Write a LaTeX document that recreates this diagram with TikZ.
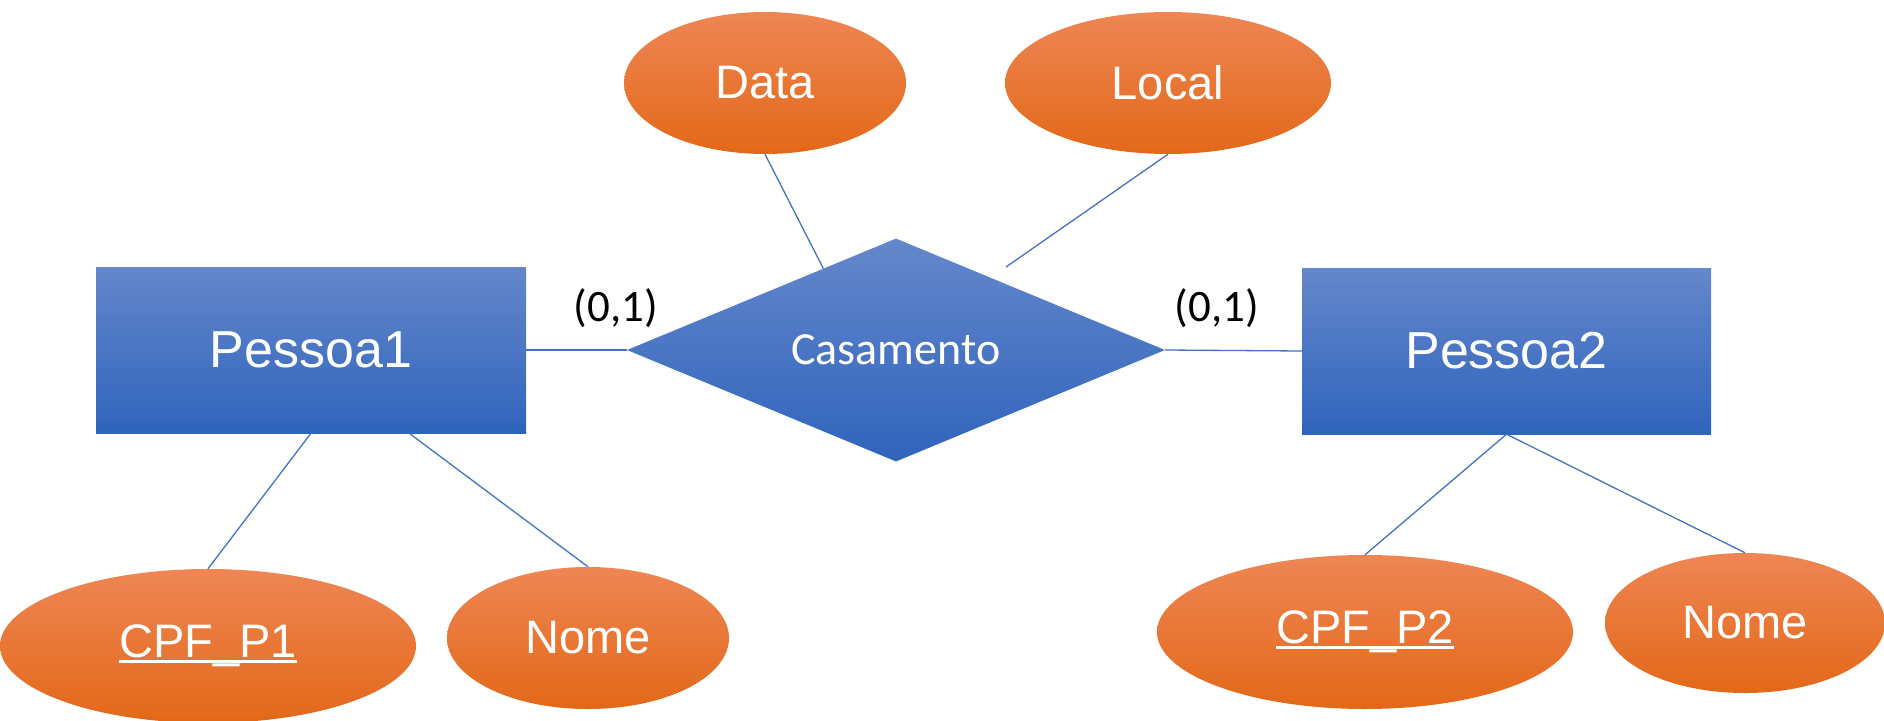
\documentclass[tikz,border=0pt]{standalone}
\usepackage{fontspec}
\setmainfont{Liberation Sans}
\newfontfamily\calfont{Carlito}
\usetikzlibrary{shapes.geometric,calc}

\definecolor{linkblue}{HTML}{4472C4}
\definecolor{entTop}{HTML}{6587CB}
\definecolor{entMid}{HTML}{4574C6}
\definecolor{entBot}{HTML}{2F64BC}
\definecolor{attTop}{HTML}{EE8654}
\definecolor{attMid}{HTML}{F47A2A}
\definecolor{attBot}{HTML}{E36818}

% key attribute: text with a solid underline
\newcommand\keyattr[1]{\setbox0=\hbox{#1}\rlap{\rule[-5pt]{\wd0}{3pt}}\box0}

\tikzset{
  entity/.style={rectangle, inner sep=0pt, text=white,
    top color=entTop, middle color=entMid, bottom color=entBot,
    font=\fontsize{52}{60}\selectfont},
  relation/.style={diamond, aspect=2.41, inner sep=0pt, text=white,
    minimum width=538pt, minimum height=223pt,
    top color=entTop, middle color=entMid, bottom color=entBot,
    font=\calfont\fontsize{46}{54}\selectfont},
  attribute/.style={ellipse, inner sep=0pt, text=white,
    top color=attTop, middle color=attMid, bottom color=attBot,
    font=\fontsize{47}{54}\selectfont},
  link/.style={draw=linkblue, line width=1.3pt},
  card/.style={inner sep=0pt, text=black, font=\calfont\fontsize{45}{52}\selectfont}
}

\begin{document}
\begin{tikzpicture}[x=1pt, y=-1pt]
  \useasboundingbox (0,0) rectangle (1884,720);

  % entities
  \node[entity, minimum width=430pt, minimum height=166pt] (p1) at (311,350) {Pessoa1};
  \node[entity, minimum width=409pt, minimum height=166pt] (p2) at (1506.5,351) {Pessoa2};

  % relationship
  \node[relation] (rel) at (896,350) {Casamento};

  % attributes
  \node[attribute, minimum width=282pt, minimum height=142pt] (data) at (765,83) {Data};
  \node[attribute, minimum width=326pt, minimum height=142pt] (local) at (1168,83) {Local};
  \node[attribute, minimum width=416pt, minimum height=154pt] (cpf1) at (208,646) {\keyattr{CPF\_P1}};
  \node[attribute, minimum width=282pt, minimum height=142pt] (nome1) at (588,638) {Nome};
  \node[attribute, minimum width=416pt, minimum height=154pt] (cpf2) at (1365,632) {\keyattr{CPF\_P2}};
  \node[attribute, minimum width=280pt, minimum height=140pt] (nome2) at (1745,623) {Nome};

  % cardinalities
  \node[card] (c1) at (616,308) {(0,1)};
  \node[card] (c2) at (1217,308) {(0,1)};

  % free end of the Local connector
  \coordinate (localend) at (1006,267);

  % connectors
  \draw[link] (p1.east) -- (rel.west);
  \draw[link] (rel.east) -- (p2.west);
  \draw[link] (data.south) -- ($(rel.north)!0.27!(rel.west)$);
  \draw[link] (local.south) -- (localend);
  \draw[link] (p1.south) -- (cpf1.north);
  \draw[link] ($(p1.south west)!0.728!(p1.south east)$) -- (nome1.north);
  \draw[link] (p2.south) -- (cpf2.north);
  \draw[link] (p2.south) -- (nome2.north);
\end{tikzpicture}
\end{document}
